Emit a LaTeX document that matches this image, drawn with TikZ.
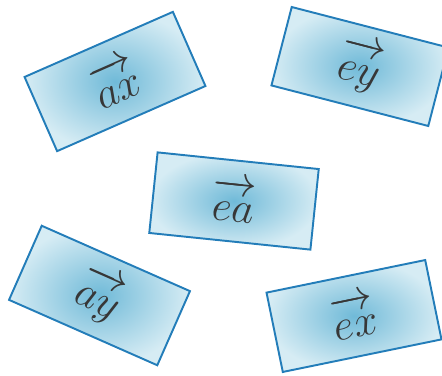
\documentclass[tikz,border=0pt]{standalone}
\usepackage{amsmath}

\definecolor{cardedge}{RGB}{35,125,185}
\definecolor{carddark}{RGB}{112,186,216}
\definecolor{cardlight}{RGB}{214,236,244}
\definecolor{cardtext}{RGB}{55,55,55}

\tikzset{
  vcard/.style={draw=cardedge, line width=1.1pt, inner sep=0pt,
    minimum width=3.24cm, minimum height=1.62cm,
    inner color=carddark, outer color=cardlight, text=cardtext,
    font=\fontsize{25}{27}\selectfont}
}
% vector label with a little room under the arrow
\newcommand{\vlab}[1]{$\overrightarrow{#1\rule{0pt}{0.6em}}$}

\begin{document}
\begin{tikzpicture}
% Canvas: 442 x 375 px at 0.02 cm per px
\useasboundingbox (0,0) rectangle (8.84,7.5);

% Cards (centre and tilt)
\node[vcard, rotate=23.7]  (ax) at (2.30,5.87) {\vlab{ax}};
\node[vcard, rotate=-14.5] (ey) at (7.20,6.17) {\vlab{ey}};
\node[vcard, rotate=-5.9]  (ea) at (4.68,3.48) {\vlab{ea}};
\node[vcard, rotate=-23.8] (ay) at (1.99,1.59) {\vlab{ay}};
\node[vcard, rotate=11.6]  (ex) at (7.08,1.18) {\vlab{ex}};
\end{tikzpicture}
\end{document}
